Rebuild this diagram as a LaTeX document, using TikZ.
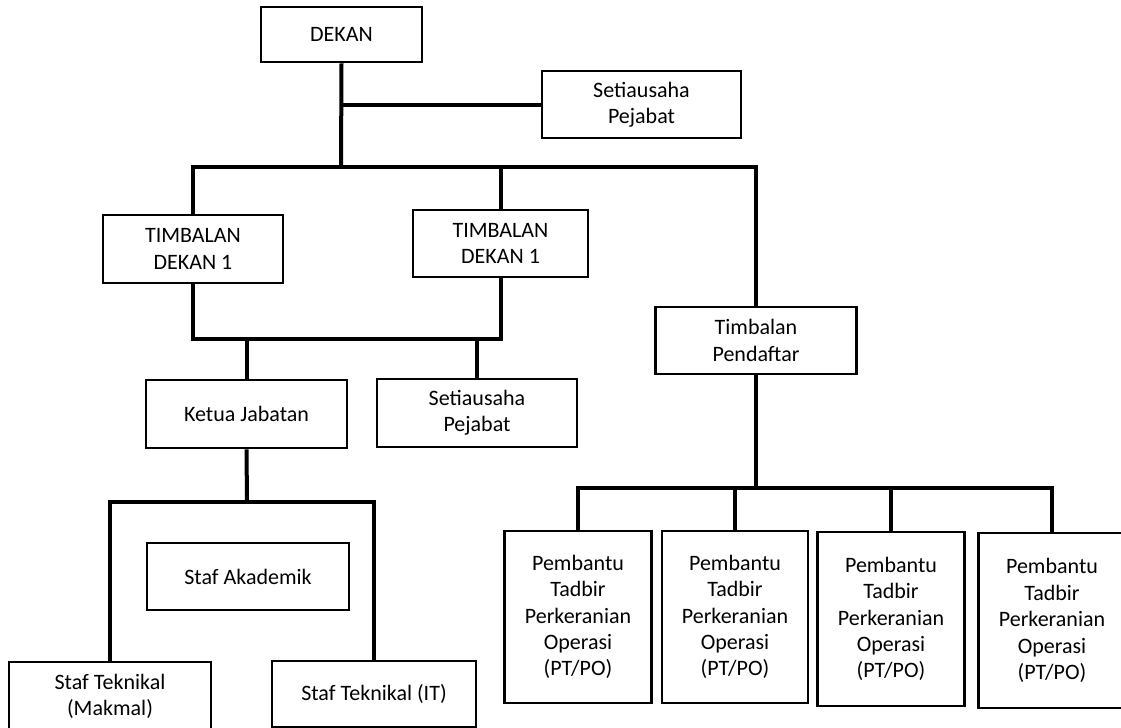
\documentclass[tikz,border=0pt]{standalone}
\usepackage{fontspec}
\setmainfont{Carlito}
\begin{document}
\begin{tikzpicture}[x=0.75pt, y=-0.75pt,
  box/.style 2 args={draw=black, line width=1.9pt, fill=white, align=center,
    inner sep=2pt, minimum width=#1*0.75pt, minimum height=#2*0.75pt,
    font=\fontsize{16.5}{19.8}\selectfont},
  conn/.style={draw=black, line width=3pt}]
\useasboundingbox (0,0) rectangle (1121,728);
\clip (0,0) rectangle (1121,728);

% top level
\node[box={161}{55}] (dekan) at (341.5,34.5) {DEKAN};
\node[box={199}{67}] (setia1) at (641.5,104.5) {Setiausaha\\Pejabat};

% deputies
\node[box={180}{68}] (tim1) at (193,249) {TIMBALAN\\DEKAN 1};
\node[box={175}{67}] (tim2) at (500.5,243.5) {TIMBALAN\\DEKAN 1};
\node[box={201}{67}] (tpend) at (756,340.5) {Timbalan\\Pendaftar};

% academic branch
\node[box={201}{68}] (ketua) at (246.5,414) {Ketua Jabatan};
\node[box={200}{68}] (setia2) at (477,413) {Setiausaha\\Pejabat};
\node[box={202}{67}] (akad) at (248,576.5) {Staf Akademik};
\node[box={202}{69}] (makmal) at (110,696.5) {Staf Teknikal\\(Makmal)};
\node[box={204}{66}] (it) at (374,694) {Staf Teknikal (IT)};

% registry branch
\node[box={147}{172}] (pb1) at (578,617) {Pembantu\\Tadbir\\Perkeranian\\Operasi\\(PT/PO)};
\node[box={146}{172}] (pb2) at (735,617) {Pembantu\\Tadbir\\Perkeranian\\Operasi\\(PT/PO)};
\node[box={147}{174}] (pb3) at (891,619) {Pembantu\\Tadbir\\Perkeranian\\Operasi\\(PT/PO)};
\node[box={147}{175}] (pb4) at (1052,620.5) {Pembantu\\Tadbir\\Perkeranian\\Operasi\\(PT/PO)};

% junction points of the buses
\coordinate (topbus) at (341,167);
\coordinate (lowbus) at (340,339);
\coordinate (staffbus) at (247,502);
\coordinate (pbus) at (756,488);

% connectors
\draw[conn] (dekan.south) -- (topbus);
\draw[conn] (dekan.south |- setia1.west) -- (setia1.west);
\draw[conn] (tim1.north) |- (topbus) -| (tpend.north);
\draw[conn] (tim2.north) -- (tim2.north |- topbus);

\draw[conn] (tim1.south) |- (lowbus) -| (tim2.south);
\draw[conn] (ketua.north) -- (ketua.north |- lowbus);
\draw[conn] (setia2.north) -- (setia2.north |- lowbus);

\draw[conn] (ketua.south) -- (staffbus);
\draw[conn] (makmal.north) |- (staffbus) -| (it.north);

\draw[conn] (tpend.south) -- (pbus);
\draw[conn] (pb1.north) |- (pbus) -| (pb4.north);
\draw[conn] (pb2.north) -- (pb2.north |- pbus);
\draw[conn] (pb3.north) -- (pb3.north |- pbus);
\end{tikzpicture}
\end{document}
